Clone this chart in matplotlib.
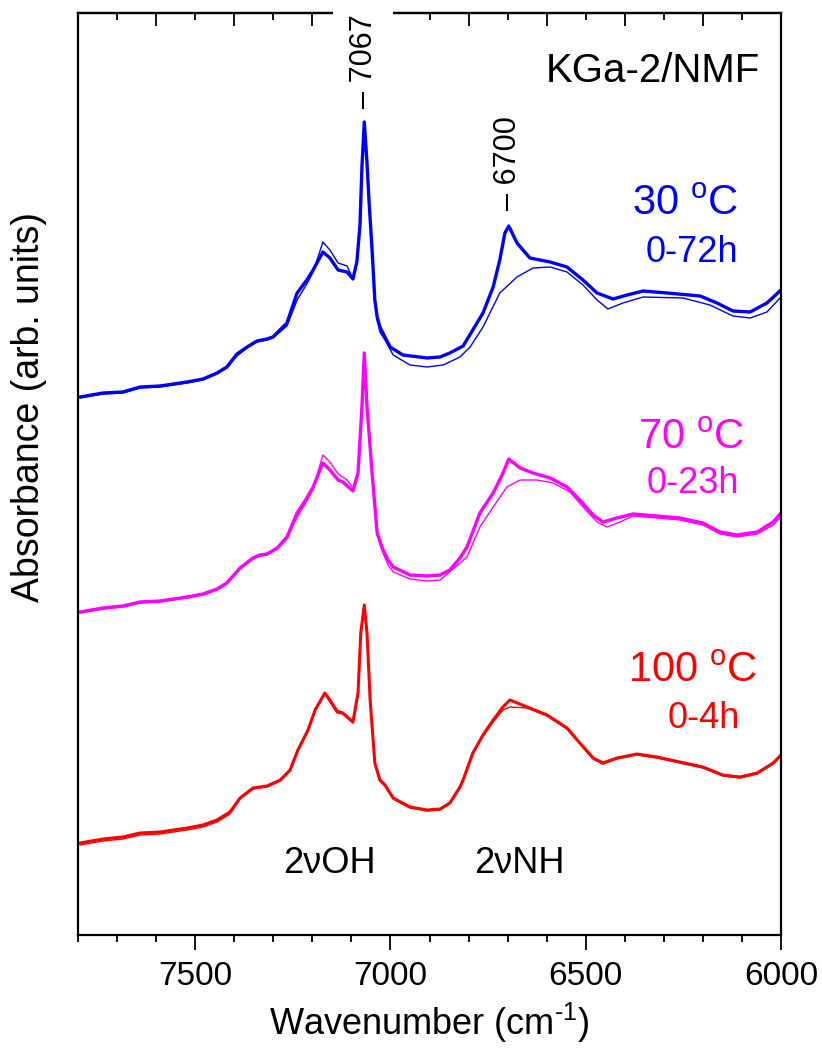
import numpy as np
import matplotlib
matplotlib.use('Agg')
import matplotlib.pyplot as plt
from matplotlib.patches import Rectangle
from matplotlib.ticker import MultipleLocator

plt.rcParams['font.family'] = ['Liberation Sans', 'DejaVu Sans']
plt.rcParams['mathtext.fontset'] = 'custom'
plt.rcParams['mathtext.rm'] = 'Liberation Sans'
plt.rcParams['mathtext.it'] = 'Liberation Sans:italic'

# --- data (wavenumber in cm-1, absorbance in arb. units, stacked) ---
blue_thick_wn = [7795, 7736, 7685, 7641, 7590, 7521, 7480, 7444, 7419, 7393, 7367, 7342, 7316, 7301, 7265,
                 7239, 7214, 7198, 7173, 7155, 7134, 7111, 7096, 7086, 7078, 7073, 7067, 7060, 7055, 7047,
                 7040, 7034, 7027, 7014, 7001, 6968, 6906, 6873, 6848, 6814, 6763, 6737, 6720, 6707, 6697,
                 6676, 6643, 6591, 6548, 6507, 6471, 6430, 6394, 6353, 6292, 6207, 6164, 6123, 6079, 6036, 6000]
blue_thick_a = [5.38, 5.42, 5.43, 5.48, 5.49, 5.53, 5.56, 5.62, 5.68, 5.81, 5.88, 5.94, 5.96, 5.98, 6.12,
                6.42, 6.55, 6.65, 6.83, 6.77, 6.65, 6.63, 6.56, 6.73, 7.10, 7.68, 8.13, 7.72, 7.35, 6.85,
                6.35, 6.18, 6.08, 5.98, 5.88, 5.80, 5.77, 5.78, 5.82, 5.89, 6.22, 6.48, 6.75, 7.02, 7.09,
                6.92, 6.77, 6.73, 6.68, 6.55, 6.42, 6.36, 6.40, 6.44, 6.42, 6.39, 6.32, 6.24, 6.23, 6.32, 6.45]

blue_thin_wn = [7795, 7736, 7685, 7641, 7590, 7521, 7480, 7444, 7419, 7393, 7367, 7342, 7316, 7301, 7265,
                7239, 7214, 7198, 7173, 7155, 7134, 7111, 7096, 7086, 7078, 7073, 7067, 7060, 7055, 7047,
                7040, 7034, 7027, 7014, 6993, 6950, 6906, 6865, 6822, 6796, 6763, 6720, 6676, 6635, 6591,
                6548, 6507, 6471, 6443, 6405, 6353, 6251, 6182, 6123, 6079, 6036, 6000]
blue_thin_a = [5.37, 5.41, 5.42, 5.47, 5.48, 5.52, 5.55, 5.61, 5.67, 5.79, 5.87, 5.93, 5.95, 5.97, 6.09,
               6.35, 6.51, 6.63, 6.93, 6.85, 6.72, 6.69, 6.56, 6.73, 7.10, 7.68, 8.11, 7.72, 7.35, 6.85,
               6.35, 6.15, 6.03, 5.95, 5.80, 5.70, 5.68, 5.70, 5.78, 5.88, 6.08, 6.42, 6.58, 6.67, 6.68,
               6.63, 6.50, 6.35, 6.26, 6.32, 6.38, 6.37, 6.30, 6.19, 6.17, 6.23, 6.38]

mag_thick_wn = [7795, 7736, 7685, 7641, 7590, 7521, 7480, 7444, 7419, 7385, 7352, 7334, 7316, 7290, 7265,
                7239, 7214, 7198, 7173, 7155, 7134, 7122, 7096, 7083, 7073, 7067, 7060, 7047, 7034, 7019,
                7006, 6993, 6950, 6906, 6873, 6848, 6822, 6804, 6771, 6737, 6714, 6697, 6668, 6635, 6591,
                6548, 6515, 6481, 6456, 6420, 6379, 6318, 6259, 6200, 6156, 6113, 6061, 6020, 6000]
mag_thick_a = [3.23, 3.27, 3.29, 3.33, 3.34, 3.38, 3.41, 3.46, 3.52, 3.67, 3.77, 3.80, 3.81, 3.87, 3.98,
               4.22, 4.37, 4.48, 4.72, 4.65, 4.55, 4.53, 4.44, 4.62, 5.28, 5.82, 5.28, 4.62, 4.02, 3.85,
               3.75, 3.68, 3.60, 3.59, 3.60, 3.65, 3.77, 3.88, 4.22, 4.42, 4.60, 4.76, 4.67, 4.62, 4.57,
               4.48, 4.35, 4.20, 4.13, 4.17, 4.21, 4.19, 4.17, 4.12, 4.03, 4.00, 4.03, 4.13, 4.22]

mag_thin_wn = [7795, 7736, 7685, 7641, 7590, 7521, 7480, 7444, 7419, 7385, 7352, 7334, 7316, 7290, 7265,
               7239, 7214, 7198, 7173, 7155, 7134, 7111, 7096, 7083, 7073, 7067, 7060, 7047, 7034, 7019,
               7006, 6993, 6950, 6906, 6873, 6804, 6771, 6737, 6702, 6668, 6625, 6584, 6540, 6507, 6471,
               6446, 6412, 6379, 6318, 6259, 6200, 6156, 6113, 6061, 6020, 6000]
mag_thin_a = [3.22, 3.26, 3.28, 3.32, 3.33, 3.37, 3.40, 3.45, 3.51, 3.66, 3.76, 3.79, 3.80, 3.86, 3.96,
              4.18, 4.34, 4.46, 4.80, 4.73, 4.61, 4.55, 4.47, 4.62, 5.28, 5.80, 5.28, 4.62, 4.00, 3.82,
              3.70, 3.63, 3.56, 3.54, 3.55, 3.78, 4.08, 4.28, 4.48, 4.55, 4.55, 4.52, 4.43, 4.28, 4.13,
              4.08, 4.13, 4.19, 4.17, 4.15, 4.10, 4.01, 3.98, 4.01, 4.10, 4.18]

red_wn = [7795, 7736, 7685, 7641, 7590, 7521, 7480, 7444, 7411, 7385, 7352, 7316, 7282, 7257, 7237,
          7211, 7193, 7168, 7155, 7137, 7122, 7096, 7083, 7076, 7067, 7060, 7052, 7040, 7027, 7014,
          6993, 6950, 6906, 6873, 6848, 6822, 6814, 6789, 6763, 6737, 6712, 6694, 6650, 6599, 6548,
          6515, 6481, 6456, 6420, 6369, 6318, 6259, 6200, 6149, 6105, 6061, 6020, 6000]
red_thick_a = [0.92, 0.96, 0.98, 1.02, 1.03, 1.07, 1.10, 1.15, 1.23, 1.37, 1.47, 1.49, 1.55, 1.65, 1.85,
               2.05, 2.25, 2.42, 2.35, 2.24, 2.22, 2.13, 2.42, 3.02, 3.30, 3.02, 2.35, 1.72, 1.55, 1.50,
               1.37, 1.28, 1.25, 1.26, 1.32, 1.48, 1.55, 1.82, 2.00, 2.15, 2.28, 2.35, 2.28, 2.20, 2.07,
               1.92, 1.77, 1.72, 1.77, 1.81, 1.78, 1.73, 1.68, 1.60, 1.58, 1.62, 1.72, 1.80]
red_thin_a = [0.90, 0.94, 0.96, 1.00, 1.01, 1.05, 1.08, 1.13, 1.21, 1.36, 1.46, 1.48, 1.54, 1.64, 1.84,
              2.04, 2.24, 2.41, 2.33, 2.22, 2.21, 2.12, 2.41, 3.00, 3.28, 3.00, 2.34, 1.71, 1.54, 1.49,
              1.36, 1.27, 1.24, 1.25, 1.31, 1.47, 1.54, 1.81, 1.99, 2.13, 2.25, 2.28, 2.27, 2.19, 2.06,
              1.91, 1.76, 1.71, 1.76, 1.80, 1.77, 1.72, 1.67, 1.59, 1.57, 1.61, 1.71, 1.79]

fig = plt.figure(figsize=(8.22, 10.51), dpi=100)
ax = fig.add_axes([78/822, 1-935/1051, 703/822, 922/1051])

kw = dict(solid_joinstyle='round', solid_capstyle='round')
ax.plot(blue_thin_wn, blue_thin_a, color='#0000ff', lw=1.0, **kw)
ax.plot(blue_thick_wn, blue_thick_a, color='#0000ff', lw=2.4, **kw)
ax.plot(mag_thin_wn, mag_thin_a, color='#ff00ff', lw=1.0, **kw)
ax.plot(mag_thick_wn, mag_thick_a, color='#ff00ff', lw=2.4, **kw)
ax.plot(red_wn, red_thin_a, color='#ff0000', lw=1.0, **kw)
ax.plot(red_wn, red_thick_a, color='#ff0000', lw=2.2, **kw)

ax.set_xlim(7800, 6000)
ax.set_ylim(0, 9.22)
ax.set_yticks([])
for s in ax.spines.values():
    s.set_linewidth(1.6)

ax.xaxis.set_major_locator(MultipleLocator(500))
ax.xaxis.set_minor_locator(MultipleLocator(100))
ax.tick_params(axis='x', which='major', direction='out', length=11, width=1.3,
               labelsize=24, pad=8, top=False)
ax.tick_params(axis='x', which='minor', direction='out', length=5, width=1.3, top=False)

top = ax.secondary_xaxis('top')
top.xaxis.set_major_locator(MultipleLocator(200))
top.xaxis.set_minor_locator(MultipleLocator(100))
top.tick_params(which='major', direction='in', length=9.5, width=1.3, labeltop=False)
top.tick_params(which='minor', direction='in', length=5, width=1.3)
top.spines['top'].set_linewidth(1.6)

# break in the top frame behind the 7067 label
ax.add_patch(Rectangle((7147, 0.975), -153, 0.06, transform=ax.get_xaxis_transform(),
                       facecolor='white', edgecolor='none', clip_on=False, zorder=9))

ax.text(7067, 8.27, '\u2013 7067', rotation=90, ha='center', va='bottom', fontsize=22, zorder=10, clip_on=False)
ax.text(6700, 7.25, '\u2013 6700', rotation=90, ha='center', va='bottom', fontsize=22)

ax.text(6054, 8.53, 'KGa-2/NMF', ha='right', va='baseline', fontsize=29)
ax.text(6246, 7.20, r'30 $^{\rm o}$C', ha='center', va='baseline', fontsize=30, color='#0000ff')
ax.text(6228, 6.73, '0-72h', ha='center', va='baseline', fontsize=26, color='#0000ff')
ax.text(6231, 4.86, r'70 $^{\rm o}$C', ha='center', va='baseline', fontsize=30, color='#ff00ff')
ax.text(6225, 4.42, '0-23h', ha='center', va='baseline', fontsize=26, color='#ff00ff')
ax.text(6225, 2.53, r'100 $^{\rm o}$C', ha='center', va='baseline', fontsize=30, color='#ff0000')
ax.text(6197, 2.07, '0-4h', ha='center', va='baseline', fontsize=26, color='#ff0000')
ax.text(7155, 0.62, '2\u03bdOH', ha='center', va='baseline', fontsize=26)
ax.text(6671, 0.62, '2\u03bdNH', ha='center', va='baseline', fontsize=26)

ax.set_xlabel(r'Wavenumber (cm$^{\text{-1}}$)', fontsize=26, labelpad=6)
fig.text(29/822, 1-407/1051, 'Absorbance (arb. units)', rotation=90, ha='center', va='center', fontsize=27)

fig.savefig('out.png', dpi=100)
